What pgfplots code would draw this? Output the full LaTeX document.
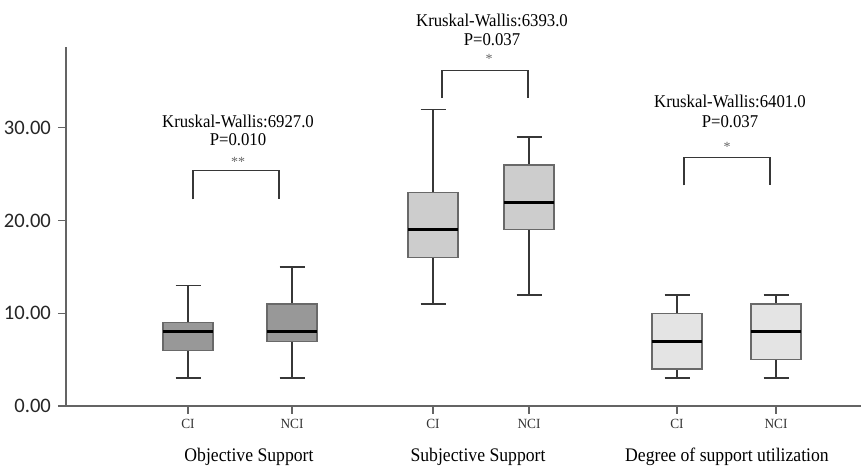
\documentclass[border=0pt]{standalone}
\usepackage{fontspec}
\setmainfont{Liberation Serif}
\newfontfamily\tickfont{Carlito}
\usepackage{pgfplots}
\pgfplotsset{compat=1.18}
\usepgfplotslibrary{statistics}
\usetikzlibrary{calc}
\definecolor{axisgray}{RGB}{100,100,100}
\definecolor{edgegray}{RGB}{105,105,105}
\definecolor{whisk}{RGB}{55,55,55}
\definecolor{fillA}{RGB}{152,152,152}
\definecolor{fillB}{RGB}{205,205,205}
\definecolor{fillC}{RGB}{228,228,228}
\begin{document}
\begin{tikzpicture}
\begin{axis}[
  name=ax,
  x=0.5pt, y=4.635pt,
  xmin=66, xmax=861, ymin=0, ymax=38.7,
  axis lines*=left,
  axis line style={axisgray, line width=1pt},
  clip=false,
  ytick={0,10,20,30},
  yticklabel style={font=\tickfont\fontsize{10.3}{12}\selectfont, color=black!85,
    /pgf/number format/fixed, /pgf/number format/fixed zerofill,
    /pgf/number format/precision=2, /pgf/number format/assume math mode=true},
  xtick={188,292,433,529,677,776},
  xticklabels={CI,NCI,CI,NCI,CI,NCI},
  xticklabel style={font=\fontsize{7}{8}\selectfont, xscale=0.95, color=black!80, yshift=1pt},
  tick align=outside,
  major tick length=4pt,
  tick style={axisgray, line width=0.6pt},
  boxplot/draw direction=y,
]
\pgfplotsset{
  mybox/.style={boxplot/box extend=50, boxplot/whisker extend=25,
    boxplot/every box/.style={draw=edgegray, line width=0.6pt, fill=#1},
    boxplot/every whisker/.style={draw=whisk, line width=0.8pt},
    boxplot/every median/.style={draw=black, line width=1.5pt},
    draw=whisk, solid, mark=none}
}
% Objective Support
\addplot+[mybox=fillA, boxplot prepared={lower whisker=3, lower quartile=6, median=8, upper quartile=9, upper whisker=13, draw position=188}] coordinates {};
\addplot+[mybox=fillA, boxplot prepared={lower whisker=3, lower quartile=7, median=8, upper quartile=11, upper whisker=15, draw position=292}] coordinates {};
% Subjective Support
\addplot+[mybox=fillB, boxplot prepared={lower whisker=11, lower quartile=16, median=19, upper quartile=23, upper whisker=32, draw position=433}] coordinates {};
\addplot+[mybox=fillB, boxplot prepared={lower whisker=12, lower quartile=19, median=22, upper quartile=26, upper whisker=29, draw position=529}] coordinates {};
% Degree of support utilization
\addplot+[mybox=fillC, boxplot prepared={lower whisker=3, lower quartile=4, median=7, upper quartile=10, upper whisker=12, draw position=677}] coordinates {};
\addplot+[mybox=fillC, boxplot prepared={lower whisker=3, lower quartile=5, median=8, upper quartile=11, upper whisker=12, draw position=776}] coordinates {};

% brackets
\draw[whisk, line width=0.75pt] (axis cs:193,22.3) -- (axis cs:193,25.4) -- (axis cs:279,25.4) -- (axis cs:279,22.3);
\draw[whisk, line width=0.75pt] (axis cs:442,33.2) -- (axis cs:442,36.2) -- (axis cs:528,36.2) -- (axis cs:528,33.2);
\draw[whisk, line width=0.75pt] (axis cs:684,23.8) -- (axis cs:684,26.8) -- (axis cs:770,26.8) -- (axis cs:770,23.8);

% stars
\node[font=\fontsize{7}{8}\selectfont, text=black!60] at (axis cs:238,26.35) {**};
\node[font=\fontsize{7}{8}\selectfont, text=black!60] at (axis cs:489,37.43) {*};
\node[font=\fontsize{7}{8}\selectfont, text=black!60] at (axis cs:727,27.97) {*};

% annotations
\tikzset{ann/.style={font=\fontsize{9}{10}\selectfont, xscale=0.93, inner sep=0pt}}
\node[ann] at (axis cs:238,30.67) {Kruskal-Wallis:6927.0};
\node[ann] at (axis cs:238,28.7) {P=0.010};
\node[ann] at (axis cs:492,41.64) {Kruskal-Wallis:6393.0};
\node[ann] at (axis cs:492,39.48) {P=0.037};
\node[ann] at (axis cs:730,32.83) {Kruskal-Wallis:6401.0};
\node[ann] at (axis cs:730,30.67) {P=0.037};

% group labels
\tikzset{grp/.style={font=\fontsize{9.6}{11}\selectfont, xscale=0.92, inner sep=0pt}}
\node[grp] at (axis cs:249,-5.45) {Objective Support};
\node[grp] at (axis cs:478,-5.45) {Subjective Support};
\node[grp] at (axis cs:727,-5.45) {Degree of support utilization};
\end{axis}
\pgfresetboundingbox
\path[use as bounding box] ($(ax.south west)+(-33pt,-34pt)$) rectangle ($(ax.south east)+(0,203pt)$);
\end{tikzpicture}
\end{document}
